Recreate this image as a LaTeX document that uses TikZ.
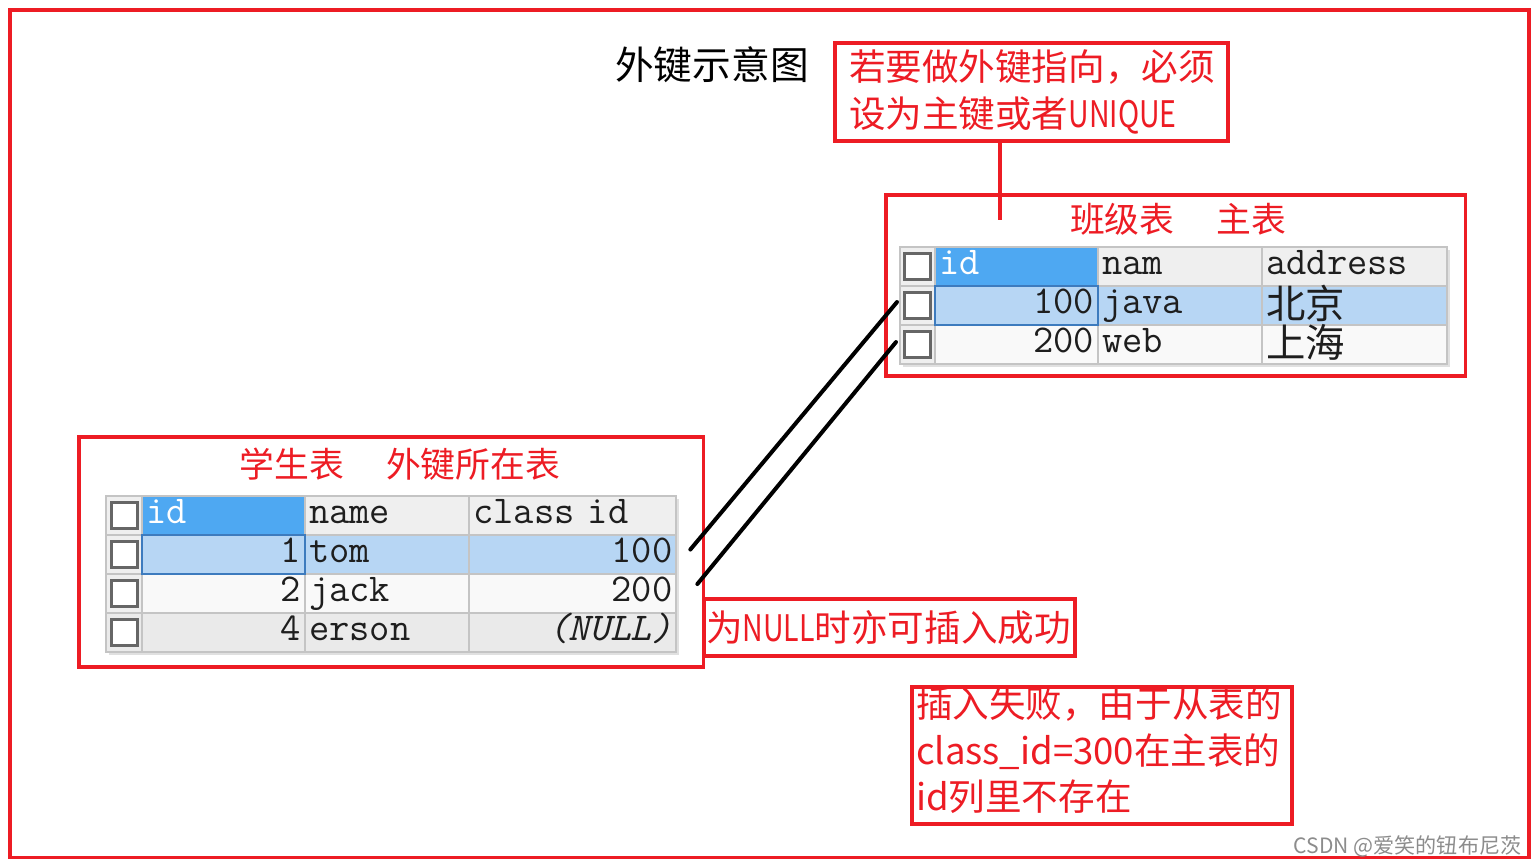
\documentclass[tikz,border=0pt]{standalone}
\usepackage{fontspec}
\newfontfamily\cjk{Noto Sans CJK SC}
\usepackage{xcolor}
\usepackage{tikz}
\usetikzlibrary{positioning,backgrounds,fit}

\definecolor{mark}{HTML}{ED1C24}
\definecolor{gridc}{HTML}{C4C4C4}
\definecolor{hdrc}{HTML}{EFEFEF}
\definecolor{keyc}{HTML}{4EA8F2}
\definecolor{selc}{HTML}{B7D6F4}
\definecolor{selb}{HTML}{3D7BBE}
\definecolor{rowc}{HTML}{F9F9F9}
\definecolor{altc}{HTML}{EAEAEA}
\definecolor{chkc}{HTML}{666666}
\definecolor{ink}{HTML}{1E1E1E}

\newcommand{\slim}[1]{\scalebox{0.78}[1]{#1}}
\newcommand{\cellfont}{\fontsize{11.2}{13}\selectfont\ttfamily}
\newcommand{\notefont}{\fontsize{10.4}{13.2}\selectfont\cjk}
\newcommand{\cellcjk}[1]{\raisebox{-0.05cm}{\cjk #1}}

\begin{document}
\begin{tikzpicture}[x=0.01cm, y=-0.01cm,
    redbox/.style={rectangle, draw=mark, line width=0.035cm, inner sep=0pt, outer sep=0pt, anchor=north west},
    note/.style={redbox, text=mark, font=\notefont, align=left},
    title/.style={text=mark, font=\fontsize{9.9}{12}\selectfont\cjk, inner sep=0pt},
    redline/.style={draw=mark, line width=0.035cm},
    link/.style={draw=black, line width=0.04cm, line cap=round},
    cell/.style={rectangle, draw=gridc, line width=0.018cm, fill=rowc, text=ink, font=\cellfont, minimum height=0.39cm, inner xsep=0.04cm, inner ysep=0pt, outer sep=0pt, text height=0.25cm, text depth=0.09cm},
    boxcol/.style={cell, fill=hdrc},
    idcol/.style={cell, text width=1.55cm, align=right},
    namecol/.style={cell, text width=1.56cm, align=left},
    clscol/.style={cell, text width=1.99cm, align=right},
    addrcol/.style={cell, text width=1.77cm, align=left},
    hdr/.style={fill=hdrc},
    key/.style={fill=keyc, text=white},
    sel/.style={fill=selc},
    alt/.style={fill=altc},
    chk/.style={rectangle, draw=chkc, line width=0.03cm, fill=white, minimum size=0.26cm, inner sep=0pt},
    shade/.style={fill=black!12, inner sep=0pt, xshift=0.03cm, yshift=-0.03cm}
]
\useasboundingbox (0,0) rectangle (1539,866);

\node[redbox, minimum width=15.18cm, minimum height=8.47cm] (frame) at (10,10) {};
\node[font=\fontsize{11}{13}\selectfont\cjk, inner sep=0pt] (maintitle) at (712,65) {外键示意图};
\node[note, text width=3.65cm, inner xsep=0.14cm, minimum height=0.98cm] (pknote) at (835,43) {若要做外键指向，必须\\设为主键或者\slim{UNIQUE}};

\node[redbox, minimum width=5.79cm, minimum height=1.81cm] (clsbox) at (886,195) {};
\node[title] (clstitle) at (1178,219) {班级表\hspace{1.2em}主表};
\draw[redline] ([xshift=-0.315cm]pknote.south) -- ++(0,79);

\node[boxcol, minimum width=0.35cm, anchor=north west] (c00) at (900,247) {};
\node[idcol, key, align=left, right=0pt of c00] (c01) {id};
\node[namecol, hdr, right=0pt of c01] (c02) {nam};
\node[addrcol, hdr, right=0pt of c02] (c03) {address};
\node[boxcol, minimum width=0.35cm, below=0pt of c00] (c10) {};
\node[idcol, sel, right=0pt of c10] (c11) {100};
\node[namecol, sel, right=0pt of c11] (c12) {java};
\node[addrcol, sel, right=0pt of c12] (c13) {\cellcjk{北京}};
\node[boxcol, minimum width=0.35cm, below=0pt of c10] (c20) {};
\node[idcol, right=0pt of c20] (c21) {200};
\node[namecol, right=0pt of c21] (c22) {web};
\node[addrcol, right=0pt of c22] (c23) {\cellcjk{上海}};
\node[fit=(c11), draw=selb, line width=0.02cm, inner sep=0pt] (c11sel) {};
\node[chk] (c00b) at (c00) {};
\node[chk] (c10b) at (c10) {};
\node[chk] (c20b) at (c20) {};
\begin{scope}[on background layer]
\node[shade, fit=(c00)(c23)] (clsshade) {};
\end{scope}

\node[redbox, minimum width=6.24cm, minimum height=2.30cm] (stubox) at (79,437) {};
\node[title] (stutitle) at (400,464) {学生表\hspace{1.2em}外键所在表};

\node[boxcol, minimum width=0.36cm, anchor=north west] (s00) at (106,496) {};
\node[idcol, key, align=left, right=0pt of s00] (s01) {id};
\node[namecol, hdr, right=0pt of s01] (s02) {name};
\node[clscol, hdr, align=left, right=0pt of s02] (s03) {class id};
\node[boxcol, minimum width=0.36cm, below=0pt of s00] (s10) {};
\node[idcol, sel, right=0pt of s10] (s11) {1};
\node[namecol, sel, right=0pt of s11] (s12) {tom};
\node[clscol, sel, right=0pt of s12] (s13) {100};
\node[boxcol, minimum width=0.36cm, below=0pt of s10] (s20) {};
\node[idcol, right=0pt of s20] (s21) {2};
\node[namecol, right=0pt of s21] (s22) {jack};
\node[clscol, right=0pt of s22] (s23) {200};
\node[boxcol, alt, minimum width=0.36cm, below=0pt of s20] (s30) {};
\node[idcol, alt, right=0pt of s30] (s31) {4};
\node[namecol, alt, right=0pt of s31] (s32) {erson};
\node[clscol, alt, right=0pt of s32] (s33) {\textit{(NULL)}};
\node[fit=(s11), draw=selb, line width=0.02cm, inner sep=0pt] (s11sel) {};
\node[chk] (s00b) at (s00) {};
\node[chk] (s10b) at (s10) {};
\node[chk] (s20b) at (s20) {};
\node[chk] (s30b) at (s30) {};
\begin{scope}[on background layer]
\node[shade, fit=(s00)(s33)] (stushade) {};
\end{scope}

\draw[link] ([xshift=0.14cm,yshift=0.05cm]s13.east) -- ([xshift=-0.03cm,yshift=0.035cm]c10.west);
\draw[link] ([xshift=0.21cm,yshift=0.095cm]s23.east) -- ([xshift=-0.04cm,yshift=0.025cm]c20.west);

\node[note, text width=3.67cm, inner xsep=0.02cm, minimum height=0.57cm] (nullnote) at (704,599) {为\slim{NULL}时亦可插入成功};
\node[note, text width=3.72cm, inner xsep=0.04cm, minimum height=1.36cm] (failnote) at (912,687) {插入失败，由于从表的\\class\_id=300在主表的\\id列里不存在\par\vspace*{0.1cm}};

\node[font=\fontsize{6}{7}\selectfont\cjk, text=black!45, anchor=east, inner sep=0pt] (credit) at (1522,846) {CSDN @爱笑的钮布尼茨};

\end{tikzpicture}
\end{document}
